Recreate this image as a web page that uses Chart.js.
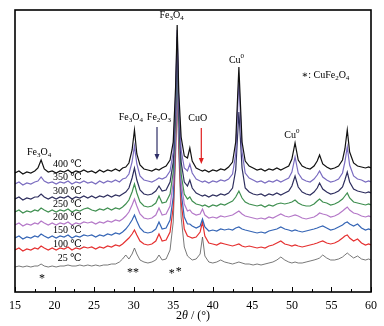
<!DOCTYPE html>
<html>
<head>
<meta charset="utf-8">
<script src="https://cdn.jsdelivr.net/npm/chart.js@4"></script>
<style>
  html, body { margin: 0; padding: 0; background: #fff; }
  #wrap { width: 384px; height: 326px; }
</style>
</head>
<body>
<div id="wrap"><canvas id="c" width="384" height="326"></canvas></div>
<script>
// 2-theta positions shared by all patterns (degrees)
const twoTheta = [
  15, 15.5, 16, 16.5, 17, 17.5, 17.9, 18.3, 18.7, 19.2,
  19.7, 20.2, 20.7, 21.2, 21.7, 22.2, 22.7, 23.2, 23.7, 24.2,
  24.7, 25.2, 25.7, 26.2, 26.7, 27.2, 27.7, 28.2, 28.6, 29.0,
  29.4, 29.8, 30.1, 30.4, 30.8, 31.3, 31.8, 32.3, 32.8, 33.2,
  33.6, 34.1, 34.6, 35.0, 35.3, 35.5, 35.7, 36.0, 36.4, 36.8,
  37.1, 37.4, 37.9, 38.4, 38.7, 39.0, 39.5, 40.0, 40.5, 41.0,
  41.5, 42.0, 42.5, 42.9, 43.3, 43.7, 44.1, 44.6, 45.1, 45.6,
  46.1, 46.6, 47.1, 47.6, 48.1, 48.6, 49.1, 49.6, 50.0, 50.4,
  50.8, 51.3, 51.8, 52.3, 52.8, 53.2, 53.5, 53.9, 54.4, 54.9,
  55.4, 55.9, 56.4, 56.7, 57.0, 57.3, 57.8, 58.3, 58.8, 59.3,
  59.7, 60.0
];

// stacked intensities (arbitrary units, offset per temperature)
const i400 = [
  119, 121, 118, 120, 119, 121, 124, 132, 123, 120,
  121, 119, 121, 120, 122, 119, 121, 120, 122, 120,
  121, 119, 122, 120, 122, 121, 123, 121, 124, 125,
  129, 142, 162, 138, 127, 123, 122, 121, 123, 122,
  124, 126, 132, 150, 205, 267, 200, 155, 136, 134,
  144, 131, 124, 122, 121, 122, 120, 122, 121, 123,
  122, 125, 130, 150, 225, 150, 131, 126, 124, 122,
  123, 121, 123, 122, 124, 122, 124, 126, 133, 149,
  132, 126, 124, 123, 126, 131, 137, 128, 125, 123,
  124, 126, 132, 143, 162, 140, 129, 126, 125, 124,
  125, 124
];
const i350 = [
  108, 110, 107, 109, 108, 110, 111, 115, 111, 109,
  110, 108, 110, 109, 111, 108, 110, 109, 111, 109,
  110, 108, 111, 109, 111, 110, 112, 110, 113, 114,
  118, 130, 146, 128, 116, 112, 111, 110, 112, 114,
  113, 115, 121, 140, 195, 262, 190, 142, 124, 121,
  128, 119, 113, 111, 110, 111, 109, 111, 110, 112,
  111, 113, 118, 138, 212, 140, 119, 114, 112, 110,
  111, 109, 111, 110, 112, 110, 112, 114, 120, 135,
  119, 113, 111, 110, 113, 117, 121, 115, 112, 110,
  111, 113, 119, 130, 145, 127, 116, 113, 112, 110,
  111, 110
];
const i300 = [
  93, 95, 92, 94, 93, 95, 95, 98, 95, 93,
  95, 93, 95, 94, 96, 93, 95, 94, 96, 94,
  96, 94, 96, 95, 97, 95, 97, 96, 98, 100,
  104, 114, 124, 112, 102, 98, 97, 98, 101, 106,
  101, 102, 110, 130, 185, 255, 182, 130, 110, 106,
  112, 104, 99, 97, 96, 97, 95, 97, 96, 98,
  97, 99, 104, 122, 180, 124, 104, 100, 98, 97,
  98, 96, 98, 97, 99, 97, 99, 101, 106, 116,
  105, 100, 98, 97, 100, 104, 109, 103, 100, 98,
  99, 101, 105, 112, 120, 110, 103, 101, 100, 99,
  100, 99
];
const i250 = [
  80, 82, 79, 81, 80, 82, 81, 84, 82, 80,
  82, 80, 82, 81, 83, 80, 82, 81, 83, 84,
  82, 81, 83, 82, 84, 82, 84, 83, 85, 88,
  92, 100, 108, 99, 90, 86, 85, 86, 89, 96,
  89, 90, 98, 120, 175, 240, 172, 118, 98, 93,
  95, 91, 88, 87, 86, 87, 85, 87, 86, 88,
  87, 89, 91, 95, 101, 94, 90, 88, 87, 86,
  87, 85, 87, 86, 88, 89, 88, 89, 90, 92,
  89, 87, 86, 86, 88, 91, 93, 90, 89, 87,
  88, 90, 93, 96, 99, 94, 90, 89, 88, 87,
  88, 87
];
const i200 = [
  67, 69, 66, 68, 67, 69, 68, 71, 69, 67,
  69, 67, 69, 68, 70, 67, 69, 68, 70, 69,
  70, 68, 70, 69, 71, 70, 72, 71, 73, 76,
  80, 87, 93, 86, 78, 74, 73, 74, 77, 84,
  77, 78, 86, 110, 165, 230, 165, 110, 88, 81,
  82, 79, 77, 78, 83, 77, 74, 75, 74, 76,
  75, 76, 77, 79, 81, 78, 76, 75, 74, 73,
  74, 73, 75, 74, 76, 78, 76, 75, 76, 77,
  76, 74, 73, 74, 75, 77, 79, 78, 77, 75,
  76, 78, 81, 83, 85, 82, 79, 78, 76, 75,
  76, 75
];
const i150 = [
  54, 56, 53, 55, 54, 56, 55, 58, 56, 54,
  56, 54, 56, 55, 57, 54, 56, 55, 57, 56,
  57, 55, 57, 56, 58, 57, 59, 58, 60, 63,
  67, 72, 77, 71, 64, 60, 59, 60, 63, 70,
  63, 64, 72, 95, 155, 222, 158, 100, 75, 68,
  68, 66, 64, 66, 73, 65, 61, 62, 61, 63,
  62, 63, 62, 64, 65, 63, 62, 61, 60, 59,
  60, 59, 61, 62, 63, 65, 63, 62, 61, 62,
  61, 60, 61, 62, 63, 64, 65, 66, 64, 62,
  63, 65, 67, 69, 70, 68, 66, 68, 64, 62,
  63, 62
];
const i100 = [
  42, 44, 41, 43, 42, 44, 43, 46, 44, 42,
  44, 42, 44, 43, 45, 42, 44, 43, 45, 44,
  45, 43, 45, 44, 46, 45, 47, 46, 48, 51,
  54, 58, 62, 57, 51, 48, 47, 48, 51, 58,
  51, 52, 60, 85, 145, 215, 150, 90, 63, 56,
  55, 54, 55, 60, 70, 56, 49, 48, 47, 49,
  48, 47, 46, 47, 48, 46, 45, 46, 45, 44,
  45, 44, 46, 47, 49, 51, 48, 47, 46, 47,
  46, 45, 46, 47, 48, 49, 50, 51, 49, 48,
  49, 51, 54, 56, 57, 54, 51, 53, 49, 47,
  48, 47
];
const i25 = [
  25, 26, 25, 26, 25, 26, 26, 28, 26, 25,
  26, 25, 26, 26, 27, 26, 26, 27, 26, 27,
  26, 27, 26, 27, 27, 28, 28, 30, 33, 37,
  33, 38, 44, 38, 32, 30, 29, 30, 32, 37,
  32, 33, 42, 70, 135, 205, 140, 75, 45, 36,
  34, 32, 33, 38, 55, 36, 30, 29, 30, 32,
  30, 29, 28, 29, 30, 29, 28, 28, 27, 28,
  27, 28, 29, 30, 32, 35, 32, 30, 29, 30,
  29, 29, 30, 31, 32, 33, 34, 37, 34, 32,
  32, 33, 35, 37, 39, 37, 34, 36, 33, 32,
  33, 32
];

const temps = ['400 ℃', '350 ℃', '300 ℃', '250 ℃', '200 ℃', '150 ℃', '100 ℃', '25 ℃'];
const series = [i400, i350, i300, i250, i200, i150, i100, i25];
const colors = ['#111111', '#7a6cc0', '#2e2e5e', '#3f8f50', '#b478c8', '#3565b5', '#e53030', '#555555'];
const xTicks = [15, 20, 25, 30, 35, 40, 45, 50, 55, 60];

const SERIF = "'Liberation Serif', 'DejaVu Serif', serif";

// draws text with sub/superscripts: parts = [[text, 'n'|'sub'|'sup'|'i'], ...]
function richText(ctx, parts, x, y, size, color, align) {
  const fontFor = m => (m === 'i' ? 'italic ' : '') + (m === 'sub' || m === 'sup' ? Math.round(size * 0.65) : size) + 'px ' + SERIF;
  let w = 0;
  parts.forEach(([t, m]) => { ctx.font = fontFor(m); w += ctx.measureText(t).width; });
  let cx = align === 'center' ? x - w / 2 : x;
  ctx.fillStyle = color;
  ctx.textBaseline = 'middle';
  ctx.textAlign = 'left';
  parts.forEach(([t, m]) => {
    ctx.font = fontFor(m);
    const dy = m === 'sub' ? size * 0.3 : m === 'sup' ? -size * 0.35 : 0;
    ctx.fillText(t, cx, y + dy);
    cx += ctx.measureText(t).width;
  });
}

const fe3o4 = [['Fe', 'n'], ['3', 'sub'], ['O', 'n'], ['4', 'sub']];
const fe2o3 = [['Fe', 'n'], ['2', 'sub'], ['O', 'n'], ['3', 'sub']];
const cu0 = [['Cu', 'n'], ['0', 'sup']];

// annotation anchors in data units [2theta, intensity]
const labels = [
  { parts: fe3o4, at: [18.05, 140] },
  { parts: fe3o4, at: [29.65, 175] },
  { parts: fe2o3, at: [33.2, 175] },
  { parts: fe3o4, at: [34.8, 277] },
  { parts: [['CuO', 'n']], at: [38.1, 174] },
  { parts: cu0, at: [43.0, 232] },
  { parts: cu0, at: [50.0, 157] },
];
const arrows = [
  { x: 32.95, from: 165, to: 132, color: '#2e2e66' },
  { x: 38.55, from: 164, to: 128, color: '#e02020' },
];
const tempPos = [[19.8, 128], [19.8, 115], [19.8, 101], [19.8, 88], [19.8, 75], [19.8, 62], [19.8, 48], [20.4, 34]];
const stars = [['*', 18.4, 13], ['**', 29.9, 19], ['*', 34.8, 18], ['*', 35.7, 20]];

const decor = {
  id: 'decor',
  afterDraw(chart) {
    const { ctx, chartArea: a, scales: { x, y } } = chart;
    ctx.save();
    // frame
    ctx.strokeStyle = '#000';
    ctx.lineWidth = 1.6;
    ctx.strokeRect(a.left, a.top, a.right - a.left, a.bottom - a.top);
    // inward ticks on bottom axis
    ctx.lineWidth = 1;
    for (let v = 15; v <= 60; v += 2.5) {
      const px = Math.round(x.getPixelForValue(v)) + 0.5;
      const len = v % 5 === 0 ? 5 : 3;
      ctx.beginPath();
      ctx.moveTo(px, a.bottom);
      ctx.lineTo(px, a.bottom - len);
      ctx.stroke();
    }
    // arrows
    arrows.forEach(ar => {
      const px = x.getPixelForValue(ar.x), y0 = y.getPixelForValue(ar.from), y1 = y.getPixelForValue(ar.to);
      ctx.strokeStyle = ar.color;
      ctx.fillStyle = ar.color;
      ctx.lineWidth = 1.2;
      ctx.beginPath(); ctx.moveTo(px, y0); ctx.lineTo(px, y1 - 4); ctx.stroke();
      ctx.beginPath(); ctx.moveTo(px - 2.5, y1 - 6); ctx.lineTo(px + 2.5, y1 - 6); ctx.lineTo(px, y1); ctx.closePath(); ctx.fill();
    });
    // phase labels
    labels.forEach(l => richText(ctx, l.parts, x.getPixelForValue(l.at[0]), y.getPixelForValue(l.at[1]), 10, '#000', 'center'));
    richText(ctx, [['∗: CuFe', 'n'], ['2', 'sub'], ['O', 'n'], ['4', 'sub']], x.getPixelForValue(51.2), y.getPixelForValue(217), 10, '#000', 'left');
    // temperature labels
    temps.forEach((t, i) => richText(ctx, [[t, 'n']], x.getPixelForValue(tempPos[i][0]), y.getPixelForValue(tempPos[i][1]), 10, '#000', 'left'));
    // CuFe2O4 markers
    stars.forEach(([s, xv, yv]) => richText(ctx, [[s, 'n']], x.getPixelForValue(xv), y.getPixelForValue(yv), 12, '#000', 'center'));
    // axis title
    richText(ctx, [['2', 'n'], ['θ', 'i'], [' / (°)', 'n']], (a.left + a.right) / 2, 316, 12, '#000', 'center');
    ctx.restore();
  }
};

new Chart(document.getElementById('c'), {
  type: 'line',
  data: {
    datasets: series.map((s, i) => ({
      label: temps[i],
      data: s.map((v, k) => ({ x: twoTheta[k], y: v })),
      borderColor: colors[i],
      borderWidth: i === 7 ? 0.8 : 1.2,
      pointRadius: 0,
      tension: 0,
      fill: false,
    })),
  },
  options: {
    responsive: false,
    animation: false,
    layout: { padding: { left: 15, right: 13, top: 10, bottom: 0 } },
    scales: {
      x: {
        type: 'linear',
        min: 15,
        max: 60,
        afterBuildTicks: s => { s.ticks = xTicks.map(v => ({ value: v })); },
        afterFit: s => { s.height = 34; },
        grid: { display: false, drawTicks: false },
        border: { display: false },
        ticks: { padding: 7, color: '#000', font: { family: SERIF, size: 12 }, maxRotation: 0 },
      },
      y: { display: false, min: 0, max: 282 },
    },
    plugins: { legend: { display: false }, tooltip: { enabled: false } },
  },
  plugins: [decor],
});
</script>
</body>
</html>
